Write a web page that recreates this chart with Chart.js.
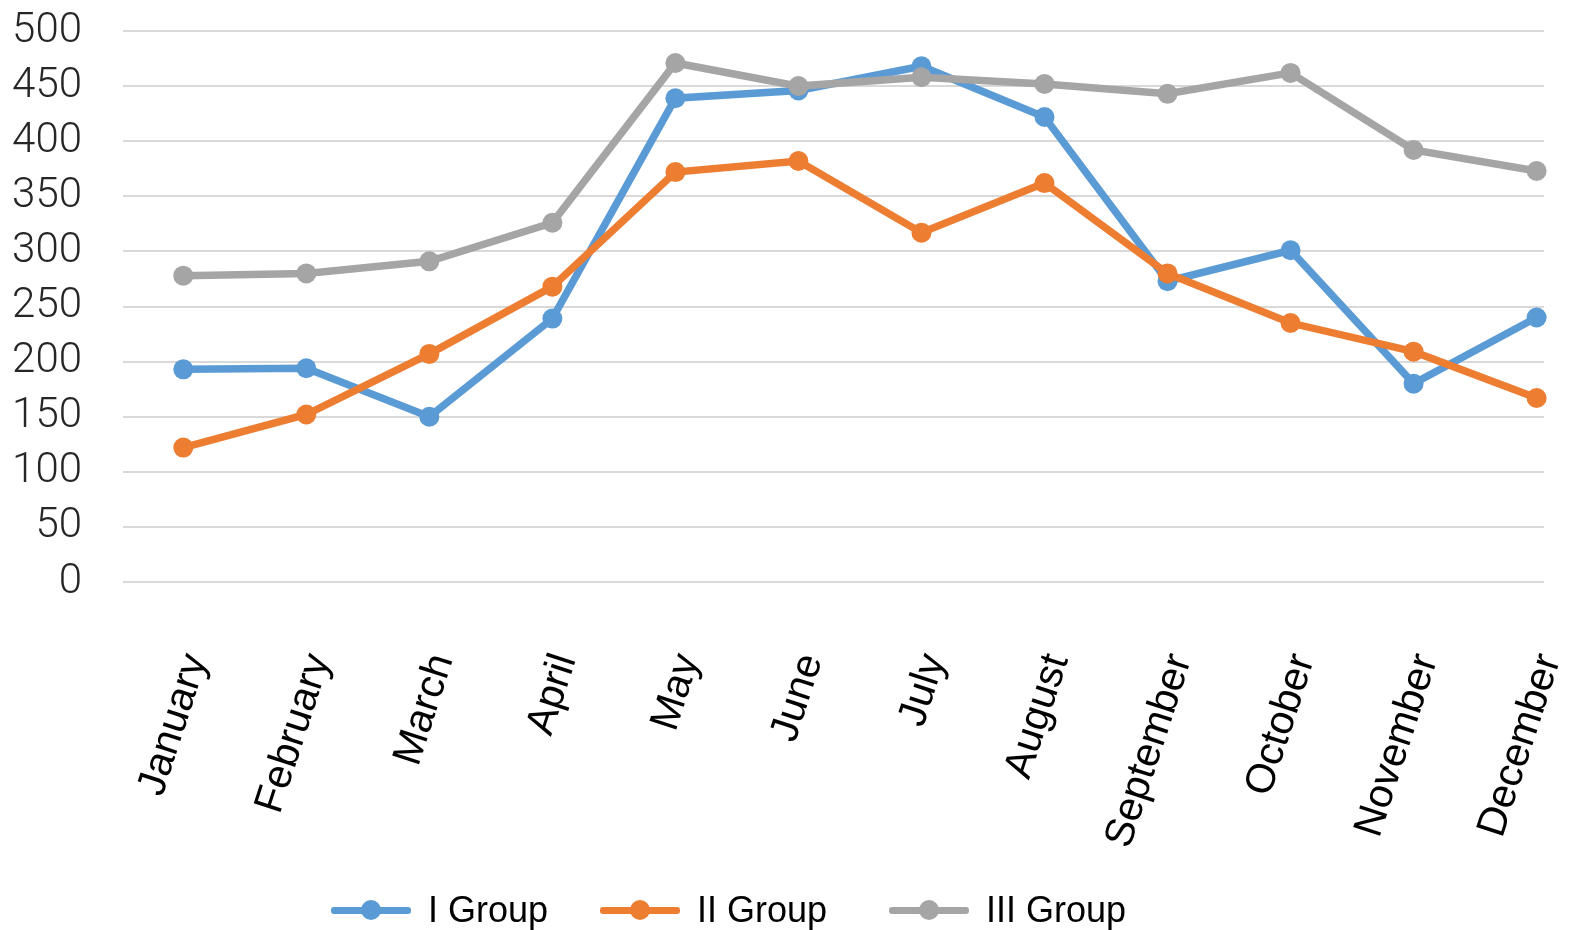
<!DOCTYPE html>
<html>
<head>
<meta charset="utf-8">
<title>Groups by month</title>
<script src="https://cdn.jsdelivr.net/npm/chart.js@4.4.1/dist/chart.umd.min.js"></script>
<style>
  html, body { margin: 0; padding: 0; background: #fff; overflow: hidden; }
  #wrap { position: relative; width: 1577px; height: 930px; }
  .legend-item {
    position: absolute; top: 889px; height: 42px;
    display: flex; align-items: center;
    font: 36px 'Liberation Sans', Arial, sans-serif; color: #000;
  }
  .legend-mark { position: relative; width: 80px; height: 7px; border-radius: 3px; margin-right: 17px; }
  .legend-mark span {
    position: absolute; left: 30px; top: -6.5px; width: 20px; height: 20px; border-radius: 50%;
    background: inherit;
  }
</style>
</head>
<body>
<div id="wrap">
  <canvas id="chart" width="1577" height="930"></canvas>
</div>
<script>
// month categories along the x axis
const months = ['January', 'February', 'March', 'April', 'May', 'June',
  'July', 'August', 'September', 'October', 'November', 'December'];

// values
const groupI   = [193, 194, 150, 239, 439, 446, 468, 422, 273, 301, 180, 240];
const groupII  = [122, 152, 207, 268, 372, 382, 317, 362, 280, 235, 209, 167];
const groupIII = [278, 280, 291, 326, 471, 450, 458, 452, 443, 462, 392, 373];

const seriesNames  = ['I Group', 'II Group', 'III Group'];
const seriesColors = ['#5B9BD5', '#ED7D31', '#A5A5A5'];

const yTicks = [0, 50, 100, 150, 200, 250, 300, 350, 400, 450, 500];

// line + dot series, later groups drawn on top (like the original)
function lineSet(name, values, color, order) {
  return {
    label: name,
    data: values.map((v, i) => ({ x: i, y: v })),
    borderColor: color,
    backgroundColor: color,
    borderWidth: 7.5,
    pointRadius: 10,
    pointBorderWidth: 0,
    pointBackgroundColor: color,
    tension: 0,
    order: order,
    clip: false,
  };
}

new Chart(document.getElementById('chart'), {
  type: 'line',
  data: {
    datasets: [
      lineSet(seriesNames[0], groupI, seriesColors[0], 3),
      lineSet(seriesNames[1], groupII, seriesColors[1], 2),
      lineSet(seriesNames[2], groupIII, seriesColors[2], 1),
    ],
  },
  options: {
    responsive: false,
    animation: false,
    layout: { padding: { top: 31, right: 33, left: 0, bottom: 0 } },
    plugins: { legend: { display: false }, tooltip: { enabled: false } },
    scales: {
      x: {
        type: 'linear',
        min: -0.49,
        max: 11.06,
        grid: { display: false },
        border: { display: false },
        afterBuildTicks: scale => { scale.ticks = months.map((_, i) => ({ value: i })); },
        afterFit: scale => {
          scale.height = 930 - 582;
          scale.paddingLeft = 0;
          scale.paddingRight = 0;
        },
        ticks: {
          autoSkip: false,
          maxRotation: 72,
          minRotation: 72,
          padding: 58,
          labelOffset: 13,
          color: '#000',
          font: { family: "'Liberation Sans', Arial, sans-serif", size: 41 },
          callback: v => months[v],
        },
      },
      y: {
        min: 0,
        max: 500,
        afterBuildTicks: scale => { scale.ticks = yTicks.map(v => ({ value: v })); },
        afterFit: scale => {
          scale.width = 123;
          scale.paddingTop = 0;
          scale.paddingBottom = 0;
        },
        grid: { color: '#D9D9D9', lineWidth: 2, drawTicks: false },
        border: { display: false },
        ticks: {
          autoSkip: false,
          padding: 41,
          color: '#262626',
          font: { family: "Roboto, 'DejaVu Sans', sans-serif", size: 42, weight: '300', lineHeight: 1 },
        },
      },
    },
  },
});

// legend, laid out the way the original places it
const legendLeft = [331, 600, 889];
const wrap = document.getElementById('wrap');
seriesNames.forEach((name, i) => {
  const item = document.createElement('div');
  item.className = 'legend-item';
  item.style.left = legendLeft[i] + 'px';
  const mark = document.createElement('div');
  mark.className = 'legend-mark';
  mark.style.background = seriesColors[i];
  mark.appendChild(document.createElement('span'));
  item.appendChild(mark);
  item.appendChild(document.createTextNode(name));
  wrap.appendChild(item);
});
</script>
</body>
</html>
